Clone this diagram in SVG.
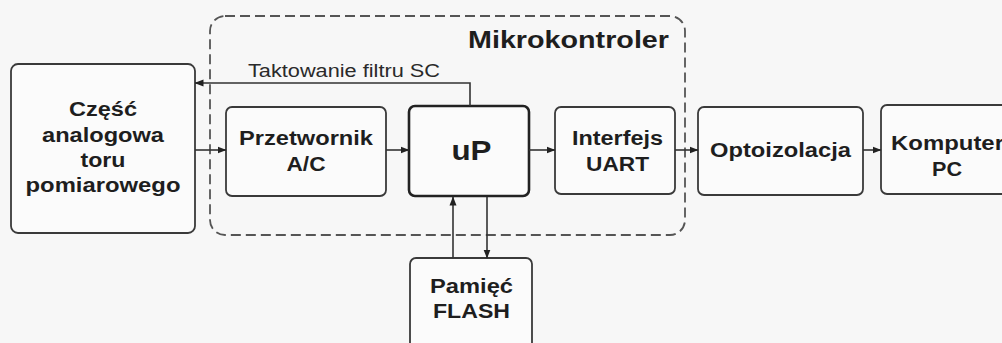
<svg xmlns="http://www.w3.org/2000/svg" width="1002" height="343" viewBox="0 0 1002 343">
<style>
.box{fill:#fbfbfb;stroke:#3a3a3a;stroke-width:1.8}
.bold{font-family:"Liberation Sans",Arial,sans-serif;font-weight:bold;font-size:19.5px;fill:#1e1e1e;text-anchor:middle}
.lbl{font-family:"Liberation Sans",Arial,sans-serif;font-size:17.5px;fill:#2a2a2a}
.conn{fill:none;stroke:#333;stroke-width:1.6}
</style>
<defs>
<marker id="ah" markerWidth="9" markerHeight="8" refX="8.5" refY="4" orient="auto" markerUnits="userSpaceOnUse">
<path d="M0,0.5 L9,4 L0,7.5 Z" fill="#222"/>
</marker>
</defs>
<rect width="1002" height="343" fill="#f7f7f7"/>
<g id="mikrokontroler">
<rect x="210" y="16" width="475" height="219" rx="15" fill="none" stroke="#555" stroke-width="1.8" stroke-dasharray="10,5"/>
<text x="468" y="48" class="bold" style="text-anchor:start;font-size:24.5px" textLength="201" lengthAdjust="spacingAndGlyphs">Mikrokontroler</text>
</g>
<g id="czesc">
<rect class="box" x="11" y="64" width="184" height="169" rx="7"/>
<text class="bold" x="103" y="116" textLength="68" lengthAdjust="spacingAndGlyphs">Część</text>
<text class="bold" x="103" y="142" textLength="122" lengthAdjust="spacingAndGlyphs">analogowa</text>
<text class="bold" x="103" y="167" textLength="45" lengthAdjust="spacingAndGlyphs">toru</text>
<text class="bold" x="103" y="192" textLength="155" lengthAdjust="spacingAndGlyphs">pomiarowego</text>
</g>
<g id="przetwornik">
<rect class="box" x="226" y="107" width="160" height="89" rx="6"/>
<text class="bold" x="306" y="145" textLength="134" lengthAdjust="spacingAndGlyphs">Przetwornik</text>
<text class="bold" x="306" y="171" textLength="39" lengthAdjust="spacingAndGlyphs">A/C</text>
</g>
<g id="up">
<rect class="box" x="409" y="106" width="120" height="90" rx="6" style="stroke-width:2.6;stroke:#222"/>
<text class="bold" x="471.5" y="160" style="font-size:28px" textLength="40" lengthAdjust="spacingAndGlyphs">uP</text>
</g>
<g id="uart">
<rect class="box" x="555" y="107" width="120" height="87" rx="6"/>
<text class="bold" x="617.5" y="145" textLength="91" lengthAdjust="spacingAndGlyphs">Interfejs</text>
<text class="bold" x="617.5" y="171" textLength="63" lengthAdjust="spacingAndGlyphs">UART</text>
</g>
<g id="opto">
<rect class="box" x="698" y="107" width="165" height="88" rx="6"/>
<text class="bold" x="780.5" y="157" textLength="141" lengthAdjust="spacingAndGlyphs">Optoizolacja</text>
</g>
<g id="komputer">
<rect class="box" x="881" y="105" width="130" height="89" rx="6"/>
<text class="bold" x="891" y="150" style="text-anchor:start" textLength="113" lengthAdjust="spacingAndGlyphs">Komputer</text>
<text class="bold" x="947" y="176" textLength="30" lengthAdjust="spacingAndGlyphs">PC</text>
</g>
<g id="flash">
<rect class="box" x="410" y="258" width="122" height="100" rx="6"/>
<text class="bold" x="471.5" y="293" textLength="83" lengthAdjust="spacingAndGlyphs">Pamięć</text>
<text class="bold" x="471.5" y="318" textLength="77" lengthAdjust="spacingAndGlyphs">FLASH</text>
</g>
<g id="connectors">
<path class="conn" d="M470,106 V83 H195" marker-end="url(#ah)"/>
<text class="lbl" x="248" y="77" textLength="192" lengthAdjust="spacingAndGlyphs">Taktowanie filtru SC</text>
<path class="conn" d="M195,150 H226" marker-end="url(#ah)"/>
<path class="conn" d="M386,150 H409" marker-end="url(#ah)"/>
<path class="conn" d="M529,150 H555" marker-end="url(#ah)"/>
<path class="conn" d="M675,150 H698" marker-end="url(#ah)"/>
<path class="conn" d="M863,150 H881" marker-end="url(#ah)"/>
<path class="conn" d="M453,258 V197" marker-end="url(#ah)"/>
<path class="conn" d="M487,197 V258" marker-end="url(#ah)"/>
</g>
</svg>
